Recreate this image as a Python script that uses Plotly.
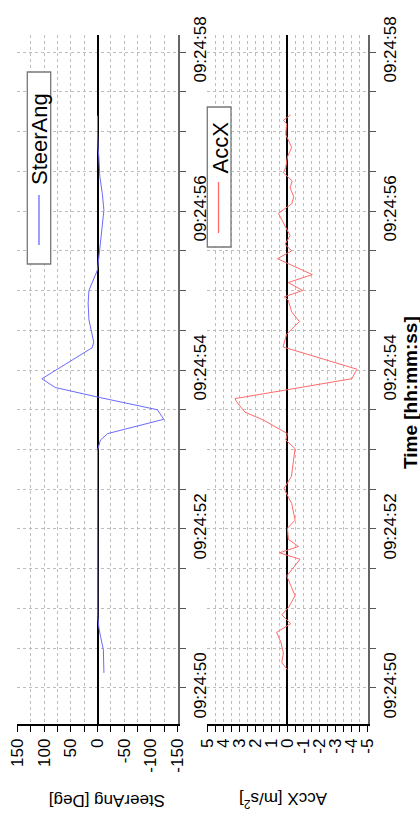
import plotly.graph_objects as go
import pandas as pd

# ---------------- data ----------------
BASE = "2024-01-01 09:24:00"
steer_t = [50.19, 50.48, 50.65, 50.76, 50.90, 51.5, 52.0, 52.5, 52.99, 53.12, 53.20, 53.38, 53.50,
           53.66, 53.78, 53.89, 54.28, 54.35, 54.63, 54.84, 55.00, 55.26, 55.76, 56.01, 56.22,
           56.43, 56.68, 56.80, 57.00, 57.20]
steer_v = [-12, -11, -5.6, -2.5, -0.5, 0, 0, 0, 0, -5.6, -19, -124, -112,
           0, 79, 104, 10, 7, 16, 17.5, 16, 0, -8.8, -12, -9,
           -4.4, -2.5, -1, 0, 0]

acc_t = [50.23, 50.32, 50.44, 50.57, 50.70, 50.81, 50.92, 51.01, 51.16, 51.32, 51.41, 51.52, 51.62,
         51.70, 51.78, 51.87, 52.01, 52.11, 52.32, 52.40, 52.51, 52.66, 52.87, 53.01, 53.12, 53.20,
         53.37, 53.47, 53.60, 53.64, 53.89, 54.01, 54.29, 54.45, 54.61, 54.73, 54.88, 54.92, 55.00,
         55.10, 55.20, 55.40, 55.50, 55.58, 55.69, 55.88, 55.97, 56.09, 56.18, 56.29, 56.38, 56.48,
         56.55, 56.68, 56.80, 56.96, 57.10, 57.14, 57.21]
acc_v = [0.0, 0.35, 0.25, 0.40, 0.67, -0.21, 0.35, -0.06, -0.48, -0.17, 0.04, -0.40, -0.79,
         0.50, -0.69, -0.06, 0.0, -0.48, -0.27, -0.06, 0.21, -0.25, -0.38, -0.48, 0.10, 0.0,
         1.5, 2.65, 3.17, 3.27, -4.02, -4.34, 0.27, 0.05, -0.75, -0.27, -0.05, 0.20, -0.96,
         -0.05, -1.55, 0.62, -0.27, 0.15, -0.17, 0.35, 0.56, -0.27, -0.40, -0.17, -0.30, 0.25,
         0.10, 0.0, -0.27, 0.10, 0.05, 0.25, -0.20]

steer_ticks = [150, 100, 50, 0, -50, -100, -150]
steer_ticktext = ["150", "100", "50", "0", "-50", "-100", "-150"]
acc_ticks = [5, 4, 3, 2, 1, 0, -1, -2, -3, -4, -5]
acc_ticktext = ["5", "4", "3", "2", "1", "0", "-1", "-2", "-3", "-4", "-5"]

time_range = [49.547, 58.214]
steer_range = [150, -150]
acc_range = [5, -5]


def ts(secs):
    base = pd.Timestamp(BASE)
    return [(base + pd.to_timedelta(s, unit="s")).strftime("%Y-%m-%d %H:%M:%S.%f") for s in secs]


# ---------------- geometry helpers ----------------
W, H = 420, 830
TOP, BOT = 35, 724


def px(x):
    return x / W


def py(y):
    return (BOT - y) / (BOT - TOP)


FONT = "Liberation Sans, Arial, sans-serif"
GRID = "#bdbdbd"

fig = go.Figure()
fig.add_trace(go.Scatter(x=steer_v, y=ts(steer_t), mode="lines",
                         line=dict(color="#6a6aff", width=1), xaxis="x", yaxis="y",
                         showlegend=False))
fig.add_trace(go.Scatter(x=acc_v, y=ts(acc_t), mode="lines",
                         line=dict(color="#ff6a6a", width=1), xaxis="x2", yaxis="y2",
                         showlegend=False))


def xax(domain, rng, tickvals, ticktext, minor, anchor):
    return dict(domain=domain, range=rng, anchor=anchor, tickmode="array",
                tickvals=tickvals, ticktext=ticktext,
                tickangle=-90, ticks="outside", ticklen=6, tickwidth=1.2, tickcolor="black",
                showline=True, linecolor="black", linewidth=1.6,
                showgrid=True, gridcolor=GRID, griddash="dot", gridwidth=1,
                zeroline=True, zerolinecolor="black", zerolinewidth=1.6,
                minor=dict(dtick=minor, ticks="outside", ticklen=6, tickcolor="black",
                           showgrid=True, gridcolor=GRID, griddash="dot", gridwidth=1),
                tickfont=dict(family=FONT, size=17, color="black"), fixedrange=True,
                automargin=False)


def yax(anchor):
    return dict(domain=[0, 1], type="date", range=ts(time_range), anchor=anchor, side="right",
                dtick=2000, tickformat="%H:%M:%S", tickangle=-90,
                ticks="outside", ticklen=6, tickwidth=1.2, tickcolor="#555555",
                showline=True, linecolor="#666666", linewidth=2,
                showgrid=True, gridcolor=GRID, griddash="dot", gridwidth=1,
                zeroline=False,
                minor=dict(dtick=500, ticks="outside", ticklen=6, tickcolor="#555555",
                           showgrid=True, gridcolor=GRID, griddash="dot", gridwidth=1),
                tickfont=dict(family=FONT, size=17, color="black"), fixedrange=True,
                automargin=False)


fig.update_layout(
    width=W, height=H, margin=dict(l=0, r=0, t=TOP, b=H - BOT, autoexpand=False),
    paper_bgcolor="white", plot_bgcolor="white",
    xaxis=xax([px(17.3), px(177.7)], steer_range, steer_ticks, steer_ticktext, 25, "y"),
    yaxis=yax("x"),
    xaxis2=xax([px(207.3), px(367.5)], acc_range, acc_ticks, acc_ticktext, 0.5, "y2"),
    yaxis2=yax("x2"),
    showlegend=False,
)


def label(text, x, y, angle, size):
    return dict(text=text, x=px(x), y=py(y), xref="paper", yref="paper",
                xanchor="center", yanchor="middle", textangle=angle, showarrow=False,
                font=dict(family=FONT, size=size, color="black"))


ann = [
    label("SteerAng [Deg]", 107, 801, 180, 17),
    label("AccX [m/s<sup>2</sup>]", 283, 800, 180, 17),
    label("<b>Time [hh:mm:ss]</b>", 410, 393, -90, 19),
    label("SteerAng", 40, 139, -90, 22),
    label("AccX", 219.5, 148, -90, 22),
]

shapes = []
# legend boxes
shapes.append(dict(type="rect", xref="paper", yref="paper", x0=px(27.3), x1=px(50.7),
                   y0=py(72), y1=py(264), line=dict(color="#777777", width=1.3),
                   fillcolor="white", layer="above"))
shapes.append(dict(type="line", xref="paper", yref="paper", x0=px(39), x1=px(39),
                   y0=py(195), y1=py(245), line=dict(color="#6a6aff", width=1.3), layer="above"))
shapes.append(dict(type="rect", xref="paper", yref="paper", x0=px(207.3), x1=px(231),
                   y0=py(107), y1=py(247), line=dict(color="#777777", width=1.3),
                   fillcolor="white", layer="above"))
shapes.append(dict(type="line", xref="paper", yref="paper", x0=px(218.5), x1=px(218.5),
                   y0=py(182), y1=py(233), line=dict(color="#ff6a6a", width=1.3), layer="above"))

fig.update_layout(annotations=ann, shapes=shapes)
fig.write_html("out.html", config={"displayModeBar": False},
               post_script="document.body.style.margin='0px';")
